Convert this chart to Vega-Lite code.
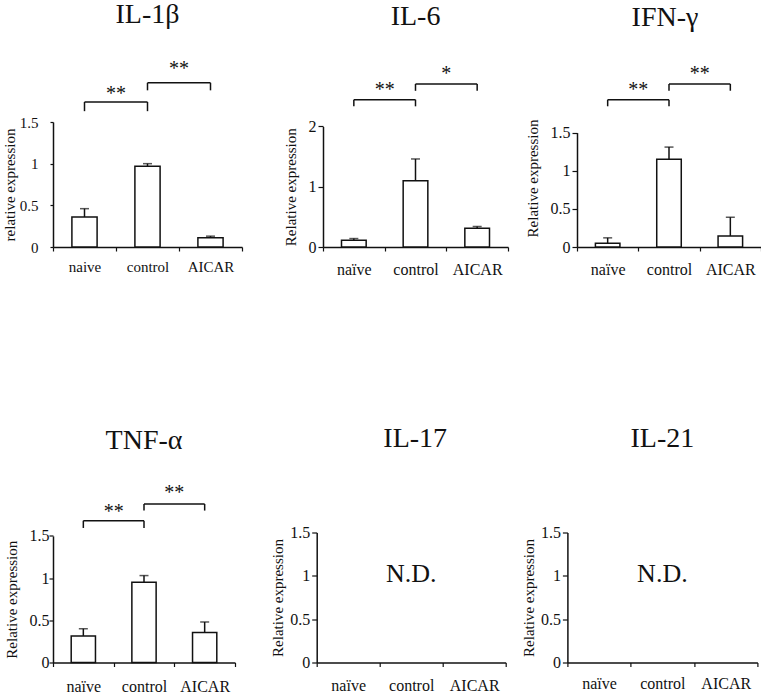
{
  "$schema": "https://vega.github.io/schema/vega-lite/v6.json",
  "padding": {"left": 2, "top": 0, "right": 0, "bottom": 0},
  "config": {
    "view": {"stroke": null},
    "font": "Liberation Serif",
    "axis": {"labelFont": "Liberation Serif", "titleFont": "Liberation Serif", "labelColor": "#111", "titleColor": "#111", "domainColor": "#111", "tickColor": "#111", "titleFontWeight": "normal", "grid": false, "domainWidth": 1.5, "tickWidth": 1.2},
    "text": {"font": "Liberation Serif", "color": "#111"}
  },
  "bounds": "flush",
  "spacing": 410.5,
  "vconcat": [
    {
      "bounds": "flush",
      "spacing": 81,
      "hconcat": [
        {
          "width": 189, "height": 125,
          "layer": [
            {
              "data": {"values": [{"cat": "naive", "mean": 0.36, "upper": 0.46}, {"cat": "control", "mean": 0.97, "upper": 1.0}, {"cat": "AICAR", "mean": 0.11, "upper": 0.13}]},
              "layer": [
                {"mark": {"type": "bar", "fill": "white", "stroke": "#111", "strokeWidth": 1.5, "width": {"band": 0.4}},
                 "encoding": {
                   "x": {"field": "cat", "type": "nominal", "sort": null, "scale": {"domain": ["naive", "control", "AICAR"], "paddingInner": 0, "paddingOuter": 0}, "axis": {"title": null, "labelAngle": 0, "tickBand": "extent", "tickSize": 4, "labelPadding": 8, "labelFontSize": 15, "labelFont": "Liberation Serif"}},
                   "y": {"field": "mean", "type": "quantitative", "scale": {"domain": [0, 1.5], "range": [125, 0], "nice": false}, "axis": {"title": "relative expression", "values": [0, 0.5, 1, 1.5], "format": "~g", "tickSize": 3, "labelPadding": 12, "titlePadding": 2, "labelFontSize": 15, "titleFontSize": 15, "labelFont": "Liberation Serif", "titleFont": "Liberation Serif"}}
                 }},
                {"mark": {"type": "rule", "strokeWidth": 1.5, "color": "#111"}, "encoding": {"x": {"field": "cat", "type": "nominal"}, "y": {"field": "mean", "type": "quantitative"}, "y2": {"field": "upper"}}},
                {"mark": {"type": "tick", "thickness": 1.5, "size": 9, "color": "#111"}, "encoding": {"x": {"field": "cat", "type": "nominal"}, "y": {"field": "upper", "type": "quantitative"}}}
              ]
            },
            {
              "data": {"values": [{"a": "naive", "b": "control", "y": 1.74, "y0": 1.63, "sy": 1.77, "s": "**"}, {"a": "control", "b": "AICAR", "y": 1.97, "y0": 1.88, "sy": 2.07, "s": "**"}]},
              "layer": [
                {"mark": {"type": "rule", "strokeWidth": 1.5, "color": "#111"}, "encoding": {"x": {"field": "a", "type": "nominal"}, "x2": {"field": "b"}, "y": {"field": "y", "type": "quantitative"}}},
                {"mark": {"type": "rule", "strokeWidth": 1.5, "color": "#111"}, "encoding": {"x": {"field": "a", "type": "nominal"}, "y": {"field": "y0", "type": "quantitative"}, "y2": {"field": "y"}}},
                {"mark": {"type": "rule", "strokeWidth": 1.5, "color": "#111"}, "encoding": {"x": {"field": "b", "type": "nominal"}, "y": {"field": "y0", "type": "quantitative"}, "y2": {"field": "y"}}},
                {"mark": {"type": "text", "fontSize": 20, "baseline": "alphabetic", "align": "center"}, "encoding": {"x": {"field": "b", "type": "nominal", "bandPosition": 0}, "y": {"field": "sy", "type": "quantitative"}, "text": {"field": "s"}}}
              ]
            },
            {
              "data": {"values": [{"cat": "control", "y": 2.69, "t": "IL-1β"}]},
              "mark": {"type": "text", "fontSize": 28, "baseline": "alphabetic", "align": "center"},
              "encoding": {"x": {"field": "cat", "type": "nominal"}, "y": {"field": "y", "type": "quantitative"}, "text": {"field": "t"}}
            }
          ]
        },
        {
          "bounds": "flush",
          "spacing": 69,
          "hconcat": [
            {
              "width": 185, "height": 125,
              "layer": [
                {
                  "data": {"values": [{"cat": "naïve", "mean": 0.11, "upper": 0.14}, {"cat": "control", "mean": 1.1, "upper": 1.46}, {"cat": "AICAR", "mean": 0.31, "upper": 0.34}]},
                  "layer": [
                    {"mark": {"type": "bar", "fill": "white", "stroke": "#111", "strokeWidth": 1.5, "width": {"band": 0.4}},
                     "encoding": {
                       "x": {"field": "cat", "type": "nominal", "sort": null, "scale": {"domain": ["naïve", "control", "AICAR"], "paddingInner": 0, "paddingOuter": 0}, "axis": {"title": null, "labelAngle": 0, "tickBand": "extent", "tickSize": 4, "labelPadding": 10, "labelFontSize": 16, "labelFont": "Liberation Serif"}},
                       "y": {"field": "mean", "type": "quantitative", "scale": {"domain": [0, 2], "range": [125, 4.4], "nice": false}, "axis": {"title": "Relative expression", "values": [0, 0.5, 1, 1.5, 2], "format": "~g", "tickSize": 5, "labelPadding": 2, "titlePadding": 10, "labelFontSize": 16, "titleFontSize": 15, "labelFont": "Liberation Serif", "titleFont": "Liberation Serif"}}
                     }},
                    {"mark": {"type": "rule", "strokeWidth": 1.5, "color": "#111"}, "encoding": {"x": {"field": "cat", "type": "nominal"}, "y": {"field": "mean", "type": "quantitative"}, "y2": {"field": "upper"}}},
                    {"mark": {"type": "tick", "thickness": 1.5, "size": 9, "color": "#111"}, "encoding": {"x": {"field": "cat", "type": "nominal"}, "y": {"field": "upper", "type": "quantitative"}}}
                  ]
                },
                {
                  "data": {"values": [{"a": "naïve", "b": "control", "y": 2.443, "y0": 2.333, "sy": 2.5, "s": "**"}, {"a": "control", "b": "AICAR", "y": 2.703, "y0": 2.59, "sy": 2.776, "s": "*"}]},
                  "layer": [
                    {"mark": {"type": "rule", "strokeWidth": 1.5, "color": "#111"}, "encoding": {"x": {"field": "a", "type": "nominal"}, "x2": {"field": "b"}, "y": {"field": "y", "type": "quantitative"}}},
                    {"mark": {"type": "rule", "strokeWidth": 1.5, "color": "#111"}, "encoding": {"x": {"field": "a", "type": "nominal"}, "y": {"field": "y0", "type": "quantitative"}, "y2": {"field": "y"}}},
                    {"mark": {"type": "rule", "strokeWidth": 1.5, "color": "#111"}, "encoding": {"x": {"field": "b", "type": "nominal"}, "y": {"field": "y0", "type": "quantitative"}, "y2": {"field": "y"}}},
                    {"mark": {"type": "text", "fontSize": 20, "baseline": "alphabetic", "align": "center"}, "encoding": {"x": {"field": "b", "type": "nominal", "bandPosition": 0}, "y": {"field": "sy", "type": "quantitative"}, "text": {"field": "s"}}}
                  ]
                },
                {
                  "data": {"values": [{"cat": "control", "y": 3.68, "t": "IL-6"}]},
                  "mark": {"type": "text", "fontSize": 28, "baseline": "alphabetic", "align": "center"},
                  "encoding": {"x": {"field": "cat", "type": "nominal"}, "y": {"field": "y", "type": "quantitative"}, "text": {"field": "t"}}
                }
              ]
            },
            {
              "width": 184, "height": 125,
              "layer": [
                {
                  "data": {"values": [{"cat": "naïve", "mean": 0.05, "upper": 0.12}, {"cat": "control", "mean": 1.15, "upper": 1.31}, {"cat": "AICAR", "mean": 0.145, "upper": 0.39}]},
                  "layer": [
                    {"mark": {"type": "bar", "fill": "white", "stroke": "#111", "strokeWidth": 1.5, "width": {"band": 0.4}},
                     "encoding": {
                       "x": {"field": "cat", "type": "nominal", "sort": null, "scale": {"domain": ["naïve", "control", "AICAR"], "paddingInner": 0, "paddingOuter": 0}, "axis": {"title": null, "labelAngle": 0, "tickBand": "extent", "tickSize": 4, "labelPadding": 10, "labelFontSize": 16, "labelFont": "Liberation Serif"}},
                       "y": {"field": "mean", "type": "quantitative", "scale": {"domain": [0, 1.5], "range": [125, 10.6], "nice": false}, "axis": {"title": "Relative expression", "titleY": 56, "values": [0, 0.5, 1, 1.5], "format": "~g", "tickSize": 5, "labelPadding": 2, "titlePadding": 10, "labelFontSize": 16, "titleFontSize": 15, "labelFont": "Liberation Serif", "titleFont": "Liberation Serif"}}
                     }},
                    {"mark": {"type": "rule", "strokeWidth": 1.5, "color": "#111"}, "encoding": {"x": {"field": "cat", "type": "nominal"}, "y": {"field": "mean", "type": "quantitative"}, "y2": {"field": "upper"}}},
                    {"mark": {"type": "tick", "thickness": 1.5, "size": 9, "color": "#111"}, "encoding": {"x": {"field": "cat", "type": "nominal"}, "y": {"field": "upper", "type": "quantitative"}}}
                  ]
                },
                {
                  "data": {"values": [{"a": "naïve", "b": "control", "y": 1.931, "y0": 1.845, "sy": 1.976, "s": "**"}, {"a": "control", "b": "AICAR", "y": 2.137, "y0": 2.049, "sy": 2.195, "s": "**"}]},
                  "layer": [
                    {"mark": {"type": "rule", "strokeWidth": 1.5, "color": "#111"}, "encoding": {"x": {"field": "a", "type": "nominal"}, "x2": {"field": "b"}, "y": {"field": "y", "type": "quantitative"}}},
                    {"mark": {"type": "rule", "strokeWidth": 1.5, "color": "#111"}, "encoding": {"x": {"field": "a", "type": "nominal"}, "y": {"field": "y0", "type": "quantitative"}, "y2": {"field": "y"}}},
                    {"mark": {"type": "rule", "strokeWidth": 1.5, "color": "#111"}, "encoding": {"x": {"field": "b", "type": "nominal"}, "y": {"field": "y0", "type": "quantitative"}, "y2": {"field": "y"}}},
                    {"mark": {"type": "text", "fontSize": 20, "baseline": "alphabetic", "align": "center"}, "encoding": {"x": {"field": "b", "type": "nominal", "bandPosition": 0}, "y": {"field": "sy", "type": "quantitative"}, "text": {"field": "s"}}}
                  ]
                },
                {
                  "data": {"values": [{"cat": "control", "y": 2.9, "t": "IFN-γ"}]},
                  "mark": {"type": "text", "fontSize": 28, "baseline": "alphabetic", "align": "center", "dx": -4},
                  "encoding": {"x": {"field": "cat", "type": "nominal"}, "y": {"field": "y", "type": "quantitative"}, "text": {"field": "t"}}
                }
              ]
            }
          ]
        }
      ]
    },
    {
      "bounds": "flush",
      "spacing": 81.7,
      "hconcat": [
        {
          "width": 182, "height": 130,
          "layer": [
            {
              "data": {"values": [{"cat": "naïve", "mean": 0.315, "upper": 0.4}, {"cat": "control", "mean": 0.95, "upper": 1.03}, {"cat": "AICAR", "mean": 0.355, "upper": 0.48}]},
              "layer": [
                {"mark": {"type": "bar", "fill": "white", "stroke": "#111", "strokeWidth": 1.5, "width": {"band": 0.4}},
                 "encoding": {
                   "x": {"field": "cat", "type": "nominal", "sort": null, "scale": {"domain": ["naïve", "control", "AICAR"], "paddingInner": 0, "paddingOuter": 0}, "axis": {"title": null, "labelAngle": 0, "tickBand": "extent", "tickSize": 4, "labelPadding": 12, "labelFontSize": 16, "labelFont": "Liberation Serif"}},
                   "y": {"field": "mean", "type": "quantitative", "scale": {"domain": [0, 1.5], "range": [130, 3.4], "nice": false}, "axis": {"title": "Relative expression", "values": [0, 0.5, 1, 1.5], "format": "~g", "tickSize": 4, "labelPadding": 0, "titlePadding": 10, "labelFontSize": 16, "titleFontSize": 15, "labelFont": "Liberation Serif", "titleFont": "Liberation Serif"}}
                 }},
                {"mark": {"type": "rule", "strokeWidth": 1.5, "color": "#111"}, "encoding": {"x": {"field": "cat", "type": "nominal"}, "y": {"field": "mean", "type": "quantitative"}, "y2": {"field": "upper"}}},
                {"mark": {"type": "tick", "thickness": 1.5, "size": 9, "color": "#111"}, "encoding": {"x": {"field": "cat", "type": "nominal"}, "y": {"field": "upper", "type": "quantitative"}}}
              ]
            },
            {
              "data": {"values": [{"a": "naïve", "b": "control", "y": 1.68, "y0": 1.594, "sy": 1.717, "s": "**"}, {"a": "control", "b": "AICAR", "y": 1.878, "y0": 1.8, "sy": 1.934, "s": "**"}]},
              "layer": [
                {"mark": {"type": "rule", "strokeWidth": 1.5, "color": "#111"}, "encoding": {"x": {"field": "a", "type": "nominal"}, "x2": {"field": "b"}, "y": {"field": "y", "type": "quantitative"}}},
                {"mark": {"type": "rule", "strokeWidth": 1.5, "color": "#111"}, "encoding": {"x": {"field": "a", "type": "nominal"}, "y": {"field": "y0", "type": "quantitative"}, "y2": {"field": "y"}}},
                {"mark": {"type": "rule", "strokeWidth": 1.5, "color": "#111"}, "encoding": {"x": {"field": "b", "type": "nominal"}, "y": {"field": "y0", "type": "quantitative"}, "y2": {"field": "y"}}},
                {"mark": {"type": "text", "fontSize": 20, "baseline": "alphabetic", "align": "center"}, "encoding": {"x": {"field": "b", "type": "nominal", "bandPosition": 0}, "y": {"field": "sy", "type": "quantitative"}, "text": {"field": "s"}}}
              ]
            },
            {
              "data": {"values": [{"cat": "control", "y": 2.53, "t": "TNF-α"}]},
              "mark": {"type": "text", "fontSize": 28, "baseline": "alphabetic", "align": "center"},
              "encoding": {"x": {"field": "cat", "type": "nominal"}, "y": {"field": "y", "type": "quantitative"}, "text": {"field": "t"}}
            }
          ]
        },
        {
          "bounds": "flush",
          "spacing": 61.7,
          "hconcat": [
            {
              "width": 189, "height": 130,
              "data": {"values": [{"cat": "naïve", "y": 0.93, "t": ""}, {"cat": "control", "y": 0.93, "t": "N.D."}, {"cat": "AICAR", "y": 0.93, "t": ""}, {"cat": "control", "y": 2.49, "t": "IL-17"}]},
              "layer": [
                {"transform": [{"filter": "datum.t != 'IL-17'"}],
                 "mark": {"type": "text", "fontSize": 26, "baseline": "alphabetic", "align": "center"},
                 "encoding": {
                   "x": {"field": "cat", "type": "nominal", "sort": null, "scale": {"domain": ["naïve", "control", "AICAR"], "paddingInner": 0, "paddingOuter": 0}, "axis": {"title": null, "labelAngle": 0, "tickBand": "extent", "tickSize": 4, "labelPadding": 11, "labelFontSize": 16, "labelFont": "Liberation Serif"}},
                   "y": {"field": "y", "type": "quantitative", "scale": {"domain": [0, 1.5], "range": [130, 0], "nice": false}, "axis": {"title": "Relative expression", "values": [0, 0.5, 1, 1.5], "format": "~g", "tickSize": 5, "labelPadding": 2, "titlePadding": 4, "labelFontSize": 16, "titleFontSize": 15, "labelFont": "Liberation Serif", "titleFont": "Liberation Serif"}},
                   "text": {"field": "t"}
                 }},
                {"transform": [{"filter": "datum.t == 'IL-17'"}],
                 "mark": {"type": "text", "fontSize": 28, "baseline": "alphabetic", "align": "center", "dx": 4},
                 "encoding": {"x": {"field": "cat", "type": "nominal"}, "y": {"field": "y", "type": "quantitative"}, "text": {"field": "t"}}}
              ]
            },
            {
              "width": 190, "height": 130,
              "data": {"values": [{"cat": "naïve", "y": 0.93, "t": ""}, {"cat": "control", "y": 0.93, "t": "N.D."}, {"cat": "AICAR", "y": 0.93, "t": ""}, {"cat": "control", "y": 2.49, "t": "IL-21"}]},
              "layer": [
                {"transform": [{"filter": "datum.t != 'IL-21'"}],
                 "mark": {"type": "text", "fontSize": 26, "baseline": "alphabetic", "align": "center"},
                 "encoding": {
                   "x": {"field": "cat", "type": "nominal", "sort": null, "scale": {"domain": ["naïve", "control", "AICAR"], "paddingInner": 0, "paddingOuter": 0}, "axis": {"title": null, "labelAngle": 0, "tickBand": "extent", "tickSize": 4, "labelPadding": 9, "labelFontSize": 16, "labelFont": "Liberation Serif"}},
                   "y": {"field": "y", "type": "quantitative", "scale": {"domain": [0, 1.5], "range": [130, 0], "nice": false}, "axis": {"title": "Relative expression", "values": [0, 0.5, 1, 1.5], "format": "~g", "tickSize": 5, "labelPadding": 2, "titlePadding": 4, "labelFontSize": 16, "titleFontSize": 15, "labelFont": "Liberation Serif", "titleFont": "Liberation Serif"}},
                   "text": {"field": "t"}
                 }},
                {"transform": [{"filter": "datum.t == 'IL-21'"}],
                 "mark": {"type": "text", "fontSize": 28, "baseline": "alphabetic", "align": "center"},
                 "encoding": {"x": {"field": "cat", "type": "nominal"}, "y": {"field": "y", "type": "quantitative"}, "text": {"field": "t"}}}
              ]
            }
          ]
        }
      ]
    }
  ]
}
